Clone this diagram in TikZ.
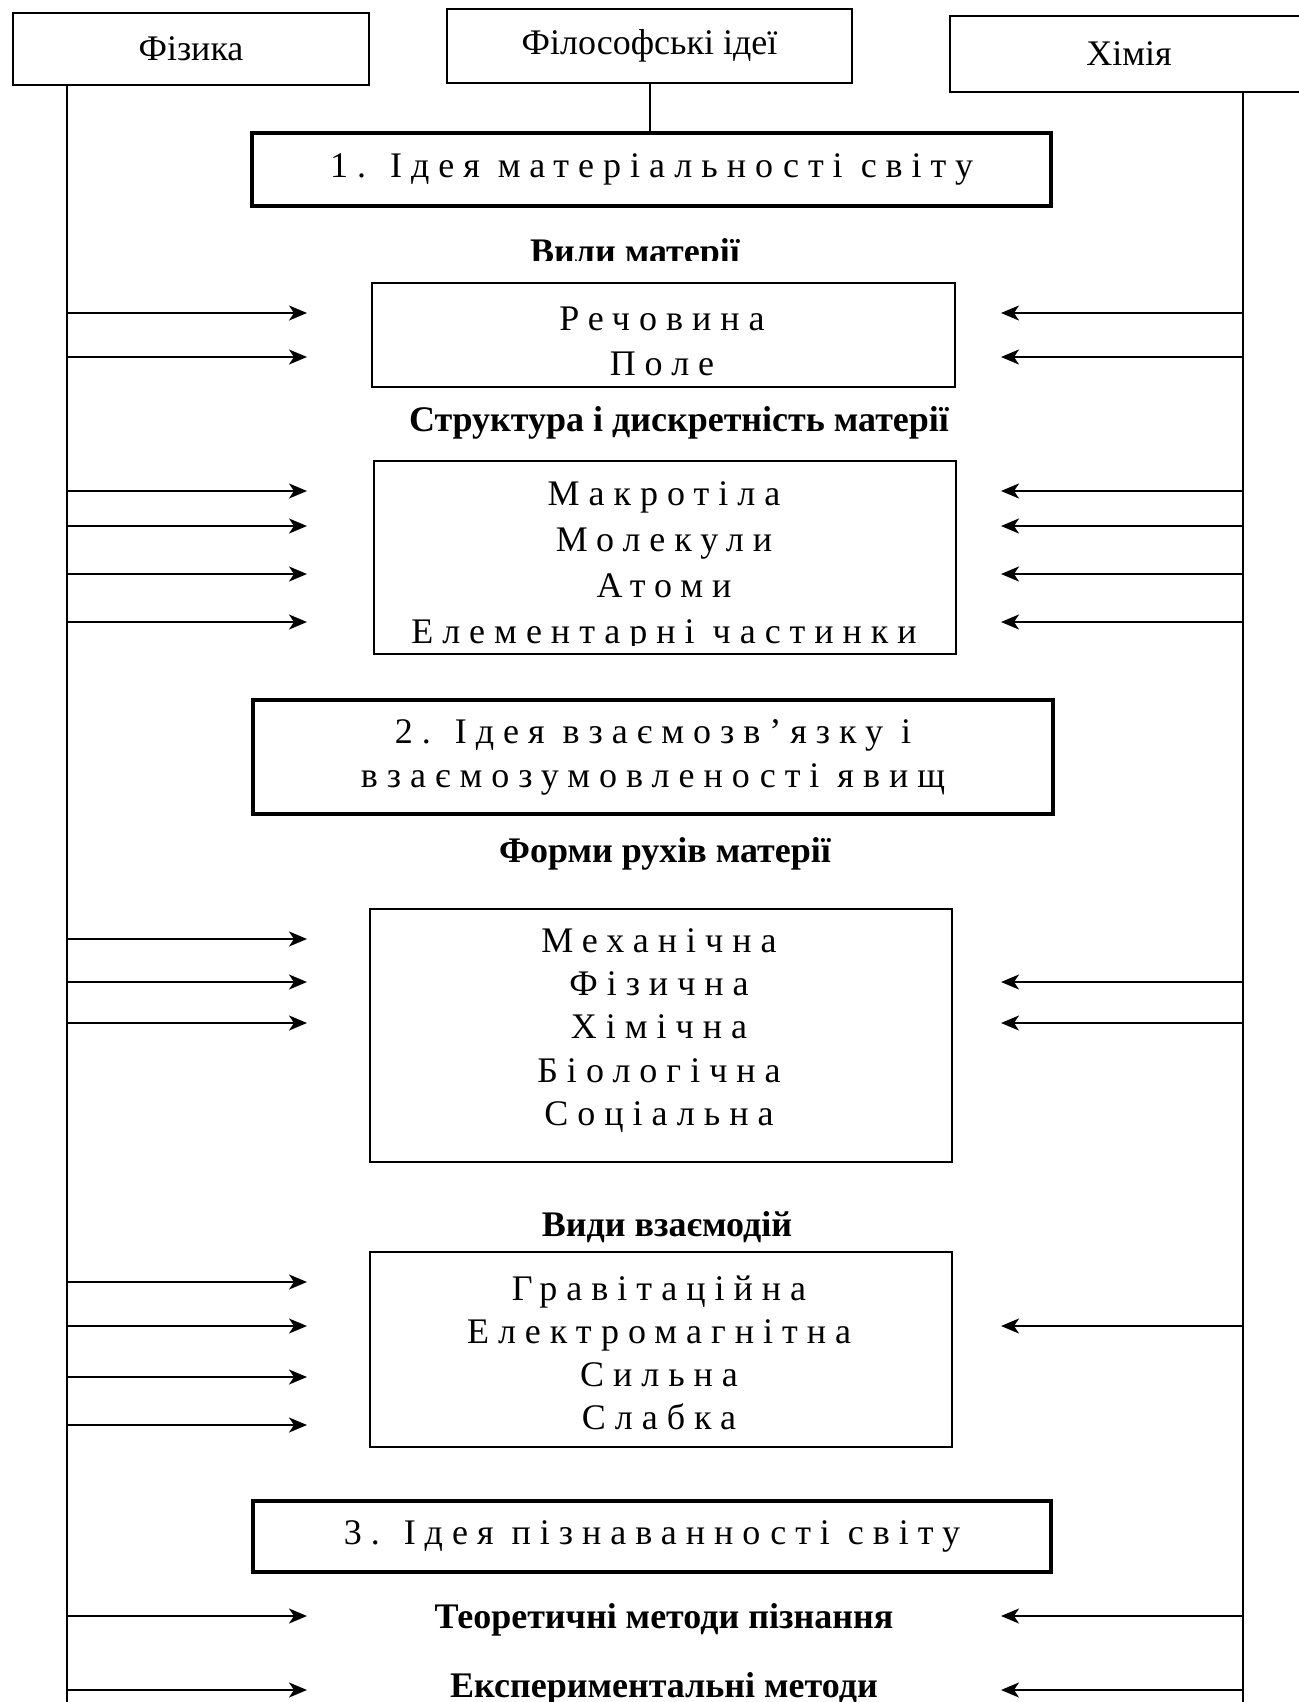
\documentclass[tikz,border=0pt]{standalone}
\usepackage{fontspec}
\setmainfont{Liberation Serif}
\usetikzlibrary{arrows.meta}

\begin{document}
\begin{tikzpicture}[
		x=0.5pt, y=-0.5pt,
		every node/.style={inner sep=0pt, font=\fontsize{18}{22}\selectfont},
		box/.style={draw, line width=0.9pt},
		ideabox/.style={draw, line width=2pt},
		spaced/.style={align=center, font=\fontsize{18}{#1}\selectfont\addfontfeature{LetterSpace=25}},
		spaced/.default=22pt,
		head/.style={anchor=base, font=\fontsize{18}{22}\selectfont\bfseries},
		link/.style={line width=1pt},
		arr/.style={line width=1.1pt, -{Stealth[length=9pt,width=7.5pt,inset=2.5pt]}}
	]
	\useasboundingbox (0,0) rectangle (1298,1702);

	% top row
	\node[box, minimum width=178pt, minimum height=36pt] (fiz) at (191,49) {Фізика};
	\node[box, minimum width=202.5pt, minimum height=37pt] (filo) at (649.5,46) {Філософські ідеї};
	\node[box, minimum width=179pt, minimum height=38pt] (him) at (1129,54) {Хімія};

	% ideas
	\node[ideabox, spaced, minimum width=399.5pt, minimum height=36.5pt] (idea1) at (651.5,169.5) {1. Ідея матеріальності світу};
	\node[ideabox, spaced, minimum width=400pt, minimum height=57pt] (idea2) at (653,757) {2. Ідея взаємозв’язку і\\взаємозумовленості явищ};
	\node[ideabox, spaced, minimum width=399pt, minimum height=35.5pt] (idea3) at (652,1536.5) {3. Ідея пізнаванності світу};

	\draw[link] (filo.south) -- (filo.south |- idea1.north);

	% headings
	\begin{scope}
		\clip (0,0) rectangle (1298,260);
		\node[head] (kinds) at (635,263) {Вили матерії};
	\end{scope}
	\node[head] (struct) at (679,431) {Структура і дискретність матерії};
	\node[head] (motion) at (665,862) {Форми рухів матерії};
	\node[head] (inter) at (667,1236) {Види взаємодій};
	\node[head] (theory) at (664,1628) {Теоретичні методи пізнання};
	\node[head] (exper) at (664,1697) {Експериментальні методи};

	% boxes
	\node[box, minimum width=291.5pt, minimum height=52pt] (bkinds) at (663.5,335) {};
	\node[spaced=22.5pt] (tkinds) at (662,341.5) {Речовина\\Поле};

	\node[box, minimum width=291pt, minimum height=96.5pt] (bstruct) at (665,557.5) {};
	\begin{scope}
		\clip (0,0) rectangle (1298,645);
		\node[spaced=23pt] (tstruct) at (664,566) {Макротіла\\Молекули\\Атоми\\Елементарні частинки};
	\end{scope}

	\node[box, minimum width=291pt, minimum height=126.5pt] (bmotion) at (661,1035.5) {};
	\node[spaced=21.6pt] (tmotion) at (659,1030.5) {Механічна\\Фізична\\Хімічна\\Біологічна\\Соціальна};

	\node[box, minimum width=291pt, minimum height=97.5pt] (binter) at (661,1349.5) {};
	\node[spaced=21.5pt] (tinter) at (659,1352.5) {Гравітаційна\\Електромагнітна\\Сильна\\Слабка};

	% side lines
	\coordinate (fizend) at (67,1702);
	\coordinate (himend) at (1243,1702);
	\draw[link] (fiz.south -| fizend) -- (fizend);
	\draw[link] (him.south -| himend) -- (himend);

	\foreach \y [count=\i] in {313,357,491,526,574,622,939,982,1023,1282,1326,1377,1425,1616,1690} {
		\coordinate (fa\i) at (67,\y);
		\coordinate (fb\i) at (307,\y);
		\draw[arr] (fa\i) -- (fb\i);
	}
	\foreach \y [count=\i] in {313,357,491,526,574,622,982,1023,1326,1616,1690} {
		\coordinate (ha\i) at (1243,\y);
		\coordinate (hb\i) at (1001,\y);
		\draw[arr] (ha\i) -- (hb\i);
	}
\end{tikzpicture}
\end{document}
